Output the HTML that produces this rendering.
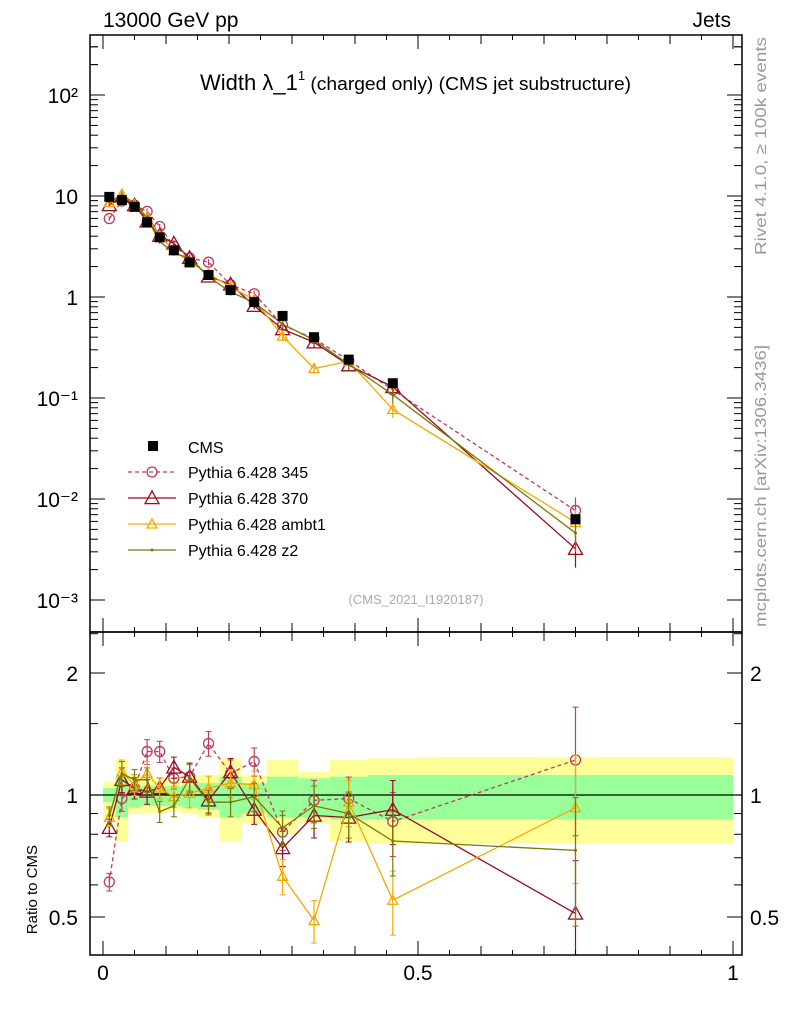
<!DOCTYPE html>
<html><head><meta charset="utf-8"><style>
body{margin:0;background:#fff;}
svg{font-family:"Liberation Sans",sans-serif;}
</style></head><body>
<svg id="c" width="786" height="1024" viewBox="0 0 786 1024" xmlns="http://www.w3.org/2000/svg"></svg>
<script>
const edges=[0,0.02,0.04,0.06,0.08,0.1,0.125,0.15,0.185,0.22,0.26,0.31,0.36,0.42,0.5,1.0];
const xvals=[0.01,0.03,0.05,0.07,0.09,0.1125,0.1375,0.1675,0.2025,0.24,0.285,0.335,0.39,0.46,0.75];
const cmsVals=[9.8,9.1,7.8,5.5,3.9,2.9,2.2,1.65,1.17,0.89,0.65,0.40,0.24,0.14,0.0063];
const r345=[0.61,0.98,1.04,1.28,1.28,1.10,1.11,1.34,1.13,1.21,0.81,0.97,0.98,0.86,1.22];
const r370=[0.83,1.09,1.04,1.02,1.04,1.17,1.11,0.97,1.14,0.92,0.74,0.89,0.88,0.92,0.51];
const rAmbt1=[0.88,1.14,1.06,1.13,1.04,0.99,1.01,1.04,1.07,1.06,0.63,0.49,0.96,0.55,0.93];
const rZ2=[0.89,1.13,1.09,1.09,0.91,0.94,1.10,0.96,0.96,0.99,0.83,0.94,0.90,0.77,0.73];
const mcErr=[0.05,0.07,0.06,0.07,0.06,0.06,0.08,0.07,0.08,0.08,0.10,0.12,0.13,0.18,0.35];
const yelLo=[0.87,0.77,0.90,0.90,0.90,0.91,0.90,0.88,0.77,0.85,0.80,0.85,0.77,0.76,0.76];
const yelHi=[1.08,1.22,1.12,1.10,1.10,1.10,1.11,1.12,1.23,1.12,1.22,1.14,1.22,1.23,1.24];
const grnLo=[0.96,0.88,0.93,0.94,0.94,0.94,0.93,0.92,0.88,0.90,0.88,0.88,0.87,0.87,0.87];
const grnHi=[1.04,1.11,1.06,1.05,1.05,1.05,1.06,1.07,1.11,1.07,1.11,1.10,1.11,1.12,1.12];
const mainTicks=["10\u207B\u00B3","10\u207B\u00B2","10\u207B\u00B9","1","10","10\u00B2"];

const S=document.getElementById('c');const NS='http://www.w3.org/2000/svg';
function el(t,a,p){const e=document.createElementNS(NS,t);for(const k in a)e.setAttribute(k,a[k]);(p||S).appendChild(e);return e;}
const L=90,R=742,T=35,M=632,B=955;
const X=v=>103+v*630;
const Y=v=>297-Math.log10(v)*101;
const YR=v=>795-Math.log2(v)*122;

for(let i=0;i<yelLo.length;i++){
 const b=el('rect',{x:X(edges[i]),y:YR(yelHi[i]),width:X(edges[i+1])-X(edges[i]),height:YR(yelLo[i])-YR(yelHi[i]),fill:'#ffff99'});
 
 const g=el('rect',{x:X(edges[i]),y:YR(grnHi[i]),width:X(edges[i+1])-X(edges[i]),height:YR(grnLo[i])-YR(grnHi[i]),fill:'#99ff99'});
 
}
el('line',{x1:L,x2:R,y1:YR(1),y2:YR(1),stroke:'#000','stroke-width':1.3});

const series=[
 {r:r345,c:'#c03a5c',dash:'4,3',m:'circle',s:5,name:'Pythia 6.428 345'},
 {r:r370,c:'#9c0a1e',dash:'',m:'tri',s:7,name:'Pythia 6.428 370'},
 {r:rAmbt1,c:'#f5a800',dash:'',m:'tri',s:5,name:'Pythia 6.428 ambt1'},
 {r:rZ2,c:'#7a7a00',dash:'',m:'dot',s:1.5,name:'Pythia 6.428 z2'}];
function marker(g,m,x,y,s,c){
 if(m==='circle')el('circle',{cx:x,cy:y,r:s,fill:'none',stroke:c,'stroke-width':1.3},g);
 else if(m==='tri')el('polygon',{points:`${x},${y-s} ${x-s},${y+s*0.8} ${x+s},${y+s*0.8}`,fill:'none',stroke:c,'stroke-width':1.3},g);
 else el('circle',{cx:x,cy:y,r:s,fill:c},g);
}
function clip(y,lo,hi){return Math.max(lo,Math.min(hi,y));}
series.forEach((s,si)=>{
 const gm=el('g',{});
 const gr=el('g',{});
 let pm='',pr='';
 xvals.forEach((x,i)=>{const v=cmsVals[i]*s.r[i];pm+=(i?'L':'M')+X(x)+','+Y(v);pr+=(i?'L':'M')+X(x)+','+clip(YR(s.r[i]),M,B);});
 el('path',{d:pm,fill:'none',stroke:s.c,'stroke-width':1.3,'stroke-dasharray':s.dash},gm);
 el('path',{d:pr,fill:'none',stroke:s.c,'stroke-width':1.3,'stroke-dasharray':s.dash},gr);
 xvals.forEach((x,i)=>{
  const v=cmsVals[i]*s.r[i],e=mcErr[i];
  el('line',{x1:X(x),x2:X(x),y1:Y(v*(1+e)),y2:Y(Math.max(v*(1-e),1e-4)),stroke:s.c,'stroke-width':1.2},gm);
  el('line',{x1:X(x),x2:X(x),y1:clip(YR(s.r[i]*(1+e)),M,B),y2:clip(YR(Math.max(s.r[i]*(1-e),0.01)),M,B),stroke:s.c,'stroke-width':1.2},gr);
  [s.r[i]*(1+e),s.r[i]*(1-e)].forEach(q=>{const yy=YR(q);if(yy>M&&yy<B)el('line',{x1:X(x)-3,x2:X(x)+3,y1:yy,y2:yy,stroke:s.c},gr);});
  marker(gm,s.m,X(x),Y(v),s.s,s.c);
  const yr=YR(s.r[i]);if(yr>M&&yr<B)marker(gr,s.m,X(x),yr,s.s,s.c);
 });
});
const gc=el('g',{});
xvals.forEach((x,i)=>{el('rect',{x:X(x)-5,y:Y(cmsVals[i])-5,width:10,height:10,fill:'#000'},gc);});

const f1=el('rect',{x:L,y:T,width:R-L,height:M-T,fill:'none',stroke:'#000','stroke-width':1.5});

const f2=el('rect',{x:L,y:M,width:R-L,height:B-M,fill:'none',stroke:'#000','stroke-width':1.5});

for(let d=-3;d<=2;d++){
 const y=Y(Math.pow(10,d));
 el('line',{x1:L,x2:L+15,y1:y,y2:y,stroke:'#000'});el('line',{x1:R-15,x2:R,y1:y,y2:y,stroke:'#000'});
 const t=el('text',{x:L-12,y:y+8,'font-size':21,'text-anchor':'end'});t.textContent=mainTicks[d+3];
 
 for(let k=2;k<10;k++){const yy=Y(k*Math.pow(10,d));if(yy>T&&yy<M){el('line',{x1:L,x2:L+8,y1:yy,y2:yy,stroke:'#000'});el('line',{x1:R-8,x2:R,y1:yy,y2:yy,stroke:'#000'});}}
}
for(let k=2;k<=3;k++){const yy=Y(k*100);el('line',{x1:L,x2:L+8,y1:yy,y2:yy,stroke:'#000'});el('line',{x1:R-8,x2:R,y1:yy,y2:yy,stroke:'#000'});}
[[0.5,'0.5'],[1,'1'],[2,'2']].forEach(([v,s])=>{const y=YR(v);
 el('line',{x1:L,x2:L+15,y1:y,y2:y,stroke:'#000'});el('line',{x1:R-15,x2:R,y1:y,y2:y,stroke:'#000'});
 const t=el('text',{x:L-12,y:y+8,'font-size':21,'text-anchor':'end'});t.textContent=s;
 const t2=el('text',{x:R+8,y:y+8,'font-size':21});t2.textContent=s;});
[0.4,0.6,0.7,0.8,0.9,1.5,2.5,3,4].forEach(v=>{const y=YR(v);if(y>M&&y<B){el('line',{x1:L,x2:L+8,y1:y,y2:y,stroke:'#000'});el('line',{x1:R-8,x2:R,y1:y,y2:y,stroke:'#000'});}});
for(let i=0;i<=20;i++){const x=X(i*0.05);const h=(i%10===0)?14:(i%2===0?9:5);
 [[M,1],[B,-1],[T,1]].forEach(([y0,dir])=>{el('line',{x1:x,x2:x,y1:y0,y2:y0+dir*h,stroke:'#000'});if(y0===M)el('line',{x1:x,x2:x,y1:M,y2:M-h,stroke:'#000'});});}
[[0,'0'],[0.5,'0.5'],[1,'1']].forEach(([v,s])=>{const t=el('text',{x:X(v),y:980,'font-size':21,'text-anchor':'middle'});t.textContent=s;
 });
function txt(x,y,s,a,name){const t=el('text',Object.assign({x:x,y:y},a));t.textContent=s;return t;}
txt(103,27,'13000 GeV pp',{'font-size':21},'energy-label');
txt(731,27,'Jets',{'font-size':21,'text-anchor':'end'},'process-label');
const title=el('text',{x:200,y:90,'font-size':22});
title.innerHTML='Width \u03bb_1<tspan dy="-10" font-size="13">1</tspan><tspan dy="10" font-size="18.5" textLength="326" lengthAdjust="spacingAndGlyphs"> (charged only) (CMS jet substructure)</tspan>';
txt(416,604,'(CMS_2021_I1920187)',{'font-size':13,'text-anchor':'middle',fill:'#aaa'},'analysis-id');
txt(0,0,'Rivet 4.1.0, \u2265 100k events',{'font-size':16,fill:'#999',textLength:'218',lengthAdjust:'spacingAndGlyphs',transform:'translate(766,255) rotate(-90)'},'rivet-label');
txt(0,0,'mcplots.cern.ch [arXiv:1306.3436]',{'font-size':16,fill:'#999',textLength:'282',lengthAdjust:'spacingAndGlyphs',transform:'translate(766,627) rotate(-90)'},'mcplots-label');
txt(0,0,'Ratio to CMS',{'font-size':15,'text-anchor':'end',transform:'translate(37,845) rotate(-90)'},'y-axis-title');
const lg=el('g',{});
el('rect',{x:148,y:441,width:10,height:10,fill:'#000'},lg);
let t=el('text',{x:188,y:453,'font-size':16},lg);t.textContent='CMS';
series.forEach((s,i)=>{const y=472+i*26;
 el('line',{x1:128,x2:176,y1:y,y2:y,stroke:s.c,'stroke-width':1.3,'stroke-dasharray':s.dash},lg);
 marker(lg,s.m,152,y,s.s,s.c);
 const tt=el('text',{x:188,y:y+6,'font-size':16},lg);tt.textContent=s.name;
 });
</script>
</body></html>
